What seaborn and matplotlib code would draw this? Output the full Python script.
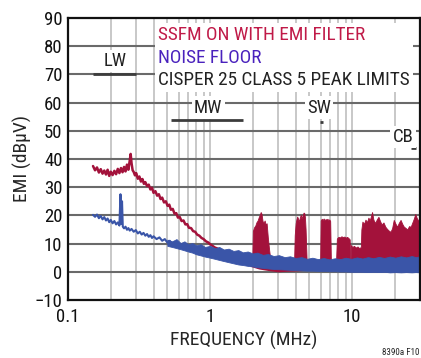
import numpy as np
import pandas as pd
import matplotlib
matplotlib.use("Agg")
import matplotlib.pyplot as plt
import seaborn as sns
from matplotlib.ticker import FixedLocator, NullFormatter, NullLocator

# ---------------- data ----------------
# SSFM ON WITH EMI FILTER, low-frequency trace (MHz, dBuV)
red_f = [0.150, 0.155, 0.160, 0.165, 0.170, 0.175, 0.180, 0.185, 0.190, 0.195,
         0.200, 0.206, 0.212, 0.218, 0.224, 0.230, 0.236, 0.242, 0.248, 0.254,
         0.260, 0.266, 0.272, 0.276, 0.280, 0.285, 0.290, 0.296, 0.302, 0.310,
         0.318, 0.326, 0.334, 0.342, 0.350, 0.360, 0.370, 0.380, 0.390, 0.400,
         0.412, 0.424, 0.436, 0.448, 0.460, 0.474, 0.488, 0.502, 0.516, 0.530,
         0.546, 0.562, 0.578, 0.594, 0.610, 0.630, 0.650, 0.670, 0.690, 0.710,
         0.735, 0.760, 0.785, 0.810, 0.840, 0.870, 0.900, 0.935, 0.970, 1.000,
         1.040, 1.080, 1.120, 1.170, 1.220, 1.270, 1.330, 1.390, 1.450, 1.520,
         1.600, 1.680, 1.770, 1.860, 1.950]
red_v = [37.5, 36.0, 37.0, 35.2, 36.4, 34.8, 35.9, 34.5, 36.2, 34.0,
         35.5, 34.3, 35.8, 34.6, 36.5, 35.0, 36.8, 35.3, 37.2, 35.6,
         38.0, 36.2, 39.5, 41.8, 38.5, 36.0, 35.4, 34.2, 35.0, 33.0,
         33.8, 32.0, 32.9, 31.2, 31.8, 30.4, 30.9, 29.2, 29.8, 28.0,
         28.6, 27.0, 27.5, 25.8, 26.3, 24.6, 25.0, 23.4, 23.8, 22.0,
         22.3, 20.6, 20.8, 19.2, 19.5, 18.0, 18.2, 16.8, 16.9, 15.6,
         15.5, 14.4, 14.2, 13.2, 12.8, 12.0, 11.6, 10.8, 10.4, 9.8,
         9.2, 8.6, 8.3, 7.6, 7.2, 6.6, 6.3, 5.8, 5.4, 5.0,
         4.6, 4.3, 4.0, 3.8, 3.5]

# NOISE FLOOR, low-frequency trace
blue_f = [0.150, 0.155, 0.160, 0.165, 0.170, 0.175, 0.180, 0.185, 0.190, 0.195,
          0.200, 0.206, 0.212, 0.218, 0.224, 0.230, 0.234, 0.237, 0.240, 0.243,
          0.248, 0.254, 0.260, 0.266, 0.272, 0.280, 0.290, 0.300, 0.310, 0.320,
          0.330, 0.340, 0.350, 0.360, 0.370, 0.380, 0.390, 0.400, 0.420, 0.440,
          0.460, 0.480, 0.500, 0.520, 0.540, 0.560]
blue_v = [20.2, 19.5, 20.3, 19.0, 19.8, 18.6, 19.4, 18.2, 18.9, 17.6,
          18.4, 17.2, 18.0, 16.8, 17.5, 16.4, 27.5, 17.0, 25.0, 16.0,
          15.4, 16.0, 14.9, 15.5, 14.6, 15.2, 14.2, 14.8, 13.6, 14.2,
          13.2, 13.8, 12.8, 13.4, 12.4, 13.0, 12.0, 12.6, 11.6, 12.2,
          11.0, 11.6, 10.4, 11.0, 9.9, 10.5]

# NOISE FLOOR, dense band (lower / upper envelope)
nf_f = [0.50, 0.54, 0.58, 0.62, 0.66, 0.70, 0.75, 0.80, 0.86, 0.92,
        1.00, 1.08, 1.16, 1.25, 1.35, 1.46, 1.58, 1.70, 1.84, 2.00,
        2.15, 2.35, 2.55, 2.80, 3.05, 3.35, 3.65, 4.00, 4.40, 4.80,
        5.25, 5.75, 6.30, 6.90, 7.55, 8.25, 9.00, 9.85, 10.8, 11.8,
        12.9, 14.1, 15.4, 16.8, 18.4, 20.1, 22.0, 24.0, 26.2, 28.0,
        30.0]
nf_hi = [11.4, 10.8, 11.6, 10.2, 10.8, 9.8, 10.2, 9.4, 9.8, 8.8,
         9.2, 8.4, 8.8, 7.9, 8.2, 7.4, 7.7, 6.9, 7.2, 6.5,
         6.8, 6.0, 6.3, 5.6, 5.9, 5.2, 5.5, 4.9, 5.2, 4.6,
         5.0, 4.5, 4.9, 4.4, 4.8, 4.5, 5.0, 4.6, 5.1, 4.7,
         5.2, 4.8, 5.3, 4.9, 5.4, 5.0, 5.5, 5.1, 5.6, 5.2,
         5.5]
nf_lo = [9.2, 8.8, 8.4, 8.0, 7.6, 7.2, 6.8, 6.2, 5.8, 5.4,
         5.0, 4.6, 4.2, 3.8, 3.4, 3.0, 2.6, 2.4, 2.1, 1.9,
         1.6, 1.4, 1.2, 1.0, 0.9, 0.8, 0.7, 0.6, 0.5, 0.4,
         0.4, 0.3, 0.3, 0.2, 0.2, 0.1, 0.1, 0.0, 0.0, 0.0,
         -0.1, 0.0, -0.1, 0.0, -0.2, -0.1, -0.2, -0.1, -0.2, -0.1,
         -0.2]

# SSFM, high-frequency baseline under the noise band
ssfm_base_f = [1.90, 2.2, 2.6, 3.0, 3.5, 4.0, 5.0, 6.0, 8.0, 10.0, 14.0, 20.0, 30.0]
ssfm_base_lo = [2.0, 1.0, 0.4, 0.0, 0.2, 0.3, 0.6, 0.8, 1.0, 1.2, 1.4, 1.5, 1.6]
ssfm_base_hi = [4.0, 4.2, 4.0, 3.8, 3.6, 3.8, 4.0, 4.2, 4.4, 4.6, 4.8, 5.0, 5.2]

# SSFM spectral bands (upper envelope)
band1_f = [1.98, 2.00, 2.04, 2.08, 2.12, 2.16, 2.20, 2.24, 2.27, 2.30,
           2.34, 2.38, 2.42, 2.46, 2.50, 2.55, 2.60, 2.66]
band1_top = [4.0, 14.5, 15.8, 16.4, 17.6, 18.2, 19.4, 20.3, 21.2, 20.6,
             18.0, 17.4, 18.2, 16.8, 17.2, 12.0, 8.0, 4.0]
band2_f = [3.90, 3.94, 4.00, 4.05, 4.10, 4.15, 4.20, 4.25, 4.30, 4.35,
           4.40, 4.45, 4.50, 4.55, 4.60, 4.65, 4.70, 4.78]
band2_top = [4.0, 13.0, 17.2, 18.6, 19.6, 19.0, 18.0, 18.6, 19.6, 20.2,
             19.0, 19.6, 20.4, 21.0, 20.8, 19.4, 15.0, 4.0]
band3_f = [5.95, 6.00, 6.10, 6.20, 6.30, 6.40, 6.50, 6.60, 6.70, 6.80,
           6.90, 7.00, 7.08]
band3_top = [4.0, 18.2, 18.8, 18.4, 18.9, 18.3, 18.7, 18.5, 18.8, 18.2,
             18.6, 18.0, 4.0]
band4_f = [7.70, 7.80, 8.00, 8.20, 8.40, 8.60, 8.80, 9.00, 9.20, 9.40,
           9.60, 9.70]
band4_top = [4.0, 11.8, 12.4, 12.2, 12.6, 12.3, 12.5, 12.1, 12.4, 12.0,
             11.5, 4.0]
band5_f = [9.75, 9.80, 10.0, 10.3, 10.6, 10.9, 11.2, 11.5, 11.6, 11.8,
           12.1, 12.4, 12.7, 13.0, 13.3, 13.6, 13.8, 14.1, 14.5, 14.9,
           15.3, 15.7, 16.1, 16.6, 17.1, 17.6, 18.1, 18.6, 19.1, 19.6,
           20.1, 20.7, 21.3, 21.9, 22.5, 23.1, 23.7, 24.4, 25.1, 25.8,
           26.5, 27.2, 27.8, 28.5, 29.2, 30.0]
band5_top = [4.0, 9.5, 8.8, 9.2, 8.6, 9.0, 8.4, 8.8, 15.0, 17.8,
             17.0, 18.5, 17.6, 19.2, 18.3, 20.0, 21.2, 18.5, 17.3, 18.6,
             19.5, 18.0, 16.8, 17.5, 16.0, 15.2, 14.6, 14.2, 15.5, 18.4,
             17.2, 16.0, 17.4, 18.4, 17.0, 16.0, 15.6, 15.0, 16.2, 16.0,
             17.5, 19.0, 20.5, 19.0, 18.2, 18.0]

# CISPR 25 class 5 peak limits
limit_names = ["LW", "MW", "SW", "CB"]
limit_start = [0.15, 0.53, 5.9, 26.0]
limit_stop = [0.30, 1.70, 6.2, 28.0]
limit_level = [70, 54, 53, 44]

legend_texts = ["SSFM ON WITH EMI FILTER", "NOISE FLOOR",
                "CISPER 25 CLASS 5 PEAK LIMITS"]
x_ticks = [0.1, 1, 10]
x_tick_labels = ["0.1", "1", "10"]
y_ticks = [-10, 0, 10, 20, 30, 40, 50, 60, 70, 80, 90]

# ---------------- styling ----------------
sns.set_style("white")
plt.rcParams["font.family"] = ["Roboto Condensed", "Archivo Narrow",
                               "Liberation Sans Narrow", "DejaVu Sans"]

RED = "#a3123b"
BLUE = "#3a55a8"
RED_TXT = "#c01a48"
PURPLE_TXT = "#4a22bd"

fig = plt.figure(figsize=(4.21, 3.58), dpi=100)
ax = fig.add_axes([68 / 421, 58 / 358, 352 / 421, 282 / 358])

ax.set_xscale("log")
ax.set_xlim(0.1, 30)
ax.set_ylim(-10, 90)

# grid
for yv in y_ticks[1:-1]:
    ax.axhline(yv, color="#6a6a6a", lw=1.5, zorder=1)
minor_x = [m * 10.0 ** e for e in (-1, 0, 1) for m in range(2, 11) if m * 10.0 ** e < 30]
for xv in minor_x:
    ax.axvline(xv, color="#c8c8c8", lw=1.4, zorder=0.9)

# SSFM dense parts
ax.fill_between(ssfm_base_f, ssfm_base_lo, ssfm_base_hi, color=RED, lw=0, zorder=2)
for bf, bt in [(band1_f, band1_top), (band2_f, band2_top), (band3_f, band3_top),
               (band4_f, band4_top), (band5_f, band5_top)]:
    ax.fill_between(bf, 3.0, bt, color=RED, lw=0.6, edgecolor=RED, zorder=2)

# SSFM low-frequency trace
sns.lineplot(x=red_f, y=red_v, ax=ax, color=RED, lw=1.8, sort=False,
             estimator=None, zorder=3)

# noise floor
ax.fill_between(nf_f, nf_lo, nf_hi, color=BLUE, lw=0.6, edgecolor=BLUE, zorder=4)
sns.lineplot(x=blue_f, y=blue_v, ax=ax, color=BLUE, lw=1.5, sort=False,
             estimator=None, zorder=4)

# limit lines
for s, e, lv in zip(limit_start, limit_stop, limit_level):
    ax.hlines(lv, s, e, color="#3c3c3c", lw=2.0, zorder=6)

# limit labels
label_pos = {"LW": (0.213, 74.8), "MW": (0.97, 58.2), "SW": (5.85, 58.2), "CB": (22.8, 47.8)}
for name in limit_names:
    px, py = label_pos[name]
    ax.text(px, py, name, ha="center", va="center", fontsize=13.5, color="#222222",
            zorder=7, bbox=dict(boxstyle="square,pad=0.12", fc="white", ec="none"))

# legend block
ax.add_patch(plt.Rectangle((0.247, 0.738), 0.733, 0.245, transform=ax.transAxes,
                           fc="white", ec="none", zorder=6))
legend_colors = [RED_TXT, PURPLE_TXT, "#222222"]
legend_y = [35, 58, 80]
for t, c, yp in zip(legend_texts, legend_colors, legend_y):
    ax.text((158 - 68) / 352, (300 - yp) / 282, t, transform=ax.transAxes,
            ha="left", va="center", fontsize=13.9, color=c, zorder=7)

# axes, ticks
ax.xaxis.set_major_locator(FixedLocator(x_ticks))
ax.set_xticklabels(x_tick_labels)
ax.xaxis.set_minor_locator(NullLocator())
ax.xaxis.set_minor_formatter(NullFormatter())
ax.set_yticks(y_ticks)
ax.tick_params(axis="both", length=0, labelsize=13.5, colors="#111111")
ax.tick_params(axis="x", pad=6)
ax.tick_params(axis="y", pad=4)
for sp in ax.spines.values():
    sp.set_color("#111111")
    sp.set_linewidth(1.6)
    sp.set_zorder(8)
ax.set_xlabel("FREQUENCY (MHz)", fontsize=14, labelpad=3)
ax.set_ylabel("EMI (dBµV)", fontsize=14, labelpad=2)

fig.text(0.997, 0.004, "8390a F10", ha="right", va="bottom", fontsize=6.5, color="#222222")

fig.savefig("out.png", dpi=100)
